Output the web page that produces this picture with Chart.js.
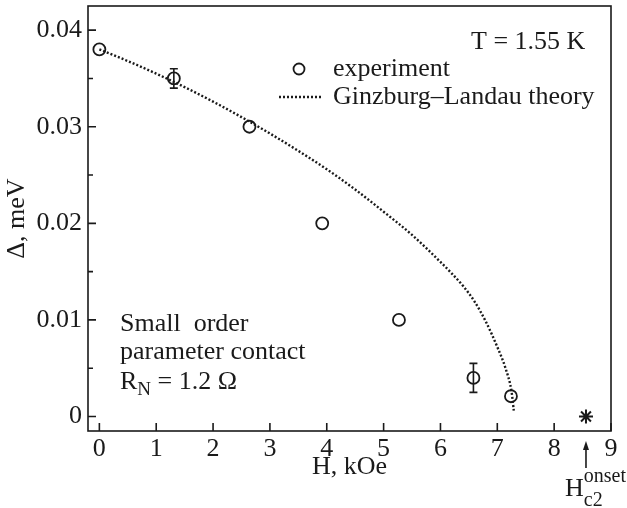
<!DOCTYPE html>
<html>
<head>
<meta charset="utf-8">
<script src="https://cdn.jsdelivr.net/npm/chart.js@4"></script>
<style>
    html, body { margin: 0; padding: 0; background: #fff; }
    #wrap { width: 627px; height: 508px; }
</style>
</head>
<body>
<div id="wrap"><canvas id="chart"></canvas></div>
<script>
// Dades experimentals (H en kOe, gap en meV)
const expH = [0, 1.31, 2.64, 3.92, 5.27, 6.58, 7.24];
const expDelta = [0.038, 0.035, 0.030, 0.020, 0.010, 0.004, 0.0021];
const expErr = [0, 0.001, 0, 0, 0, 0.0015, 0];

// Corba de Ginzburg-Landau llegida del gràfic
const theoryH = [0, 0.5, 1, 1.5, 2, 2.5, 3, 3.5, 4, 4.5, 5, 5.5, 6, 6.2, 6.4, 6.6, 6.8, 7.0, 7.15, 7.25, 7.29];
const theoryDelta = [0.0380, 0.0368, 0.0355, 0.0341, 0.0326, 0.0310, 0.0293, 0.0275, 0.0256, 0.0235, 0.0212, 0.0188, 0.0160, 0.0148, 0.0135, 0.0119, 0.0098, 0.0072, 0.0049, 0.0026, 0.0006];

// Hc2 onset
const onsetH = [8.56];
const onsetDelta = [0];

// Eixos
const xTicks = [0, 1, 2, 3, 4, 5, 6, 7, 8, 9];
const yTicks = [0, 0.01, 0.02, 0.03, 0.04];
const yMinorTicks = [0.005, 0.015, 0.025, 0.035];

const FONT = "'Liberation Serif', 'Times New Roman', serif";
const INK = '#1a1a1a';

const toPoints = (xs, ys) => xs.map((x, i) => ({ x, y: ys[i] }));

/**
 * Marc, marques interiors dels eixos, barres d'error i textos
 */
const decorPlugin = {
    id: 'decor',
    afterDatasetsDraw(chart) {
        const { ctx, scales: { x, y } } = chart;
        ctx.save();
        ctx.strokeStyle = INK;
        ctx.lineWidth = 1.6;
        expH.forEach((h, i) => {
            if (!expErr[i]) return;
            const px = x.getPixelForValue(h);
            const top = y.getPixelForValue(expDelta[i] + expErr[i]);
            const bot = y.getPixelForValue(expDelta[i] - expErr[i]);
            ctx.beginPath();
            ctx.moveTo(px, top); ctx.lineTo(px, bot);
            ctx.moveTo(px - 4, top); ctx.lineTo(px + 4, top);
            ctx.moveTo(px - 4, bot); ctx.lineTo(px + 4, bot);
            ctx.stroke();
        });
        ctx.restore();
    },
    afterDraw(chart) {
        const { ctx, chartArea: a, scales: { x, y } } = chart;
        ctx.save();
        ctx.strokeStyle = INK;
        ctx.fillStyle = INK;

        // marc
        ctx.lineWidth = 1.6;
        ctx.strokeRect(a.left, a.top, a.right - a.left, a.bottom - a.top);

        // marques cap a dins
        ctx.beginPath();
        xTicks.forEach(v => {
            const px = x.getPixelForValue(v);
            ctx.moveTo(px, a.bottom); ctx.lineTo(px, a.bottom - 8);
        });
        yTicks.forEach(v => {
            const py = y.getPixelForValue(v);
            ctx.moveTo(a.left, py); ctx.lineTo(a.left + 8, py);
        });
        yMinorTicks.forEach(v => {
            const py = y.getPixelForValue(v);
            ctx.moveTo(a.left, py); ctx.lineTo(a.left + 5, py);
        });
        ctx.stroke();

        ctx.font = `26px ${FONT}`;
        ctx.textBaseline = 'middle';
        ctx.textAlign = 'left';

        // llegenda
        ctx.lineWidth = 1.8;
        ctx.beginPath();
        ctx.arc(299, 69, 5.5, 0, Math.PI * 2);
        ctx.stroke();
        ctx.fillText('experiment', 333, 69);

        ctx.lineWidth = 2.4;
        ctx.setLineDash([2, 2]);
        ctx.beginPath();
        ctx.moveTo(279, 97); ctx.lineTo(322, 97);
        ctx.stroke();
        ctx.setLineDash([]);
        ctx.fillText('Ginzburg\u2013Landau theory', 333, 97);

        ctx.fillText('T = 1.55 K', 471, 42);

        // text del contacte
        ctx.fillText('Small  order', 120, 324);
        ctx.fillText('parameter contact', 120, 352);
        ctx.fillText('R', 120, 382);
        let w = ctx.measureText('R').width;
        ctx.font = `19px ${FONT}`;
        ctx.fillText('N', 120 + w, 390);
        const wn = ctx.measureText('N').width;
        ctx.font = `26px ${FONT}`;
        ctx.fillText(' = 1.2 \u03A9', 120 + w + wn, 382);

        // fletxa Hc2 onset
        const ax = x.getPixelForValue(onsetH[0]);
        ctx.lineWidth = 1.6;
        ctx.beginPath();
        ctx.moveTo(ax, 468); ctx.lineTo(ax, 448);
        ctx.stroke();
        ctx.beginPath();
        ctx.moveTo(ax, 441); ctx.lineTo(ax - 3, 450); ctx.lineTo(ax + 3, 450);
        ctx.closePath();
        ctx.fill();

        ctx.fillText('H', 565, 489);
        w = ctx.measureText('H').width;
        ctx.font = `20px ${FONT}`;
        ctx.fillText('onset', 565 + w, 477);
        ctx.fillText('c2', 565 + w, 501);

        ctx.restore();
    }
};

const ctx = document.getElementById('chart').getContext('2d');
const chart = new Chart(ctx, {
    type: 'scatter',
    data: {
        datasets: [
            {
                label: 'Ginzburg\u2013Landau theory',
                data: toPoints(theoryH, theoryDelta),
                showLine: true,
                borderColor: INK,
                borderWidth: 2.4,
                borderDash: [2, 2],
                cubicInterpolationMode: 'monotone',
                pointRadius: 0,
                fill: false
            },
            {
                label: 'experiment',
                data: toPoints(expH, expDelta),
                pointStyle: 'circle',
                pointRadius: 6,
                borderColor: INK,
                borderWidth: 1.8,
                backgroundColor: 'transparent'
            },
            {
                label: 'Hc2 onset',
                data: toPoints(onsetH, onsetDelta),
                pointStyle: 'star',
                pointRadius: 7,
                borderColor: INK,
                borderWidth: 2
            }
        ]
    },
    options: {
        responsive: true,
        maintainAspectRatio: false,
        animation: false,
        layout: {
            autoPadding: false,
            padding: { top: 6, right: 16, left: 0, bottom: 0 }
        },
        plugins: {
            legend: { display: false },
            tooltip: { enabled: false }
        },
        scales: {
            x: {
                type: 'linear',
                min: -0.2,
                max: 9,
                afterBuildTicks: s => { s.ticks = xTicks.map(v => ({ value: v })); },
                afterFit: s => {
                    s.height = 77;
                    s.paddingLeft = 0; s.paddingRight = 0;
                },
                grid: { display: false, drawTicks: false },
                border: { display: false },
                ticks: {
                    color: INK,
                    padding: 3,
                    font: { family: FONT, size: 26 },
                    callback: v => String(v)
                },
                title: {
                    display: true,
                    text: 'H, kOe',
                    color: INK,
                    font: { family: FONT, size: 26 },
                    padding: { top: 0, bottom: 25 }
                }
            },
            y: {
                type: 'linear',
                min: -0.0015,
                max: 0.0425,
                afterBuildTicks: s => { s.ticks = yTicks.map(v => ({ value: v })); },
                afterFit: s => {
                    s.width = 88;
                    s.paddingTop = 0; s.paddingBottom = 0;
                },
                grid: { display: false, drawTicks: false },
                border: { display: false },
                ticks: {
                    color: INK,
                    padding: 6,
                    font: { family: FONT, size: 26 },
                    callback: v => v === 0 ? '0' : v.toFixed(2)
                },
                title: {
                    display: true,
                    text: '\u0394, meV',
                    color: INK,
                    font: { family: FONT, size: 26 },
                    padding: { top: 2, bottom: 0 }
                }
            }
        }
    },
    plugins: [decorPlugin]
});
</script>
</body>
</html>
